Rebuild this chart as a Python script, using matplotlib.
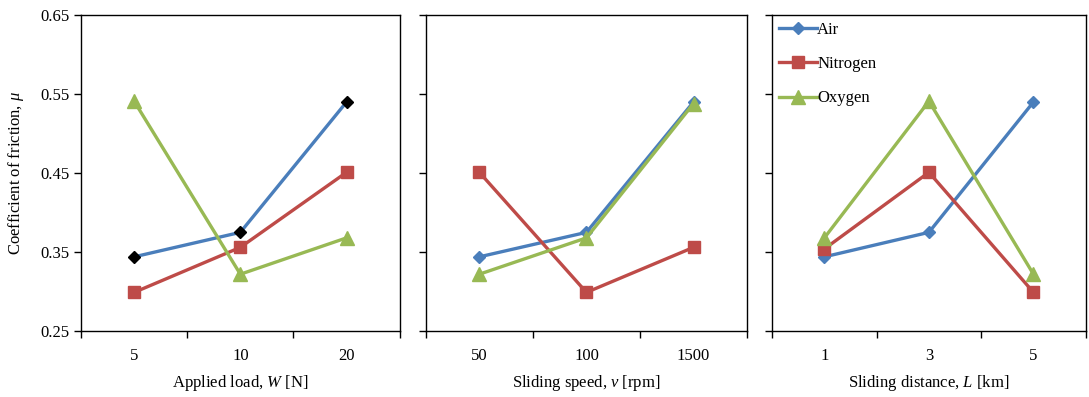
import matplotlib
matplotlib.use("Agg")
import matplotlib.pyplot as plt

# categories per panel
load_cats = ["5", "10", "20"]
speed_cats = ["50", "100", "1500"]
dist_cats = ["1", "3", "5"]

# coefficient of friction
load_air = [0.344, 0.375, 0.540]
load_n2 = [0.299, 0.356, 0.451]
load_o2 = [0.541, 0.322, 0.368]

speed_air = [0.344, 0.375, 0.540]
speed_n2 = [0.451, 0.299, 0.356]
speed_o2 = [0.322, 0.368, 0.538]

dist_air = [0.344, 0.375, 0.540]
dist_n2 = [0.354, 0.451, 0.299]
dist_o2 = [0.368, 0.541, 0.322]

BLUE, RED, GREEN = "#4a7ebb", "#be4b48", "#98b954"

plt.rcParams["font.family"] = "Liberation Serif"
plt.rcParams["mathtext.fontset"] = "custom"
plt.rcParams["mathtext.it"] = "Liberation Serif:italic"
plt.rcParams["mathtext.rm"] = "Liberation Serif"

fig = plt.figure(figsize=(10.89, 3.97), dpi=100)
bottom, top = 0.166, 0.962
boxes = [(0.0744, 0.367), (0.391, 0.686), (0.709, 0.997)]
panels = [
    (load_cats, load_air, load_n2, load_o2, "Applied load, $W$ [N]", "black"),
    (speed_cats, speed_air, speed_n2, speed_o2, "Sliding speed, $v$ [rpm]", BLUE),
    (dist_cats, dist_air, dist_n2, dist_o2, "Sliding distance, $L$ [km]", BLUE),
]

for i, ((l, r), (cats, air, n2, o2, xlabel, air_mk)) in enumerate(zip(boxes, panels)):
    ax = fig.add_axes([l, bottom, r - l, top - bottom])
    x = range(len(cats))
    ax.plot(x, air, "-", color=BLUE, lw=2.4, marker="D", ms=6.5,
            mfc=air_mk, mec=air_mk, label="Air", zorder=3)
    ax.plot(x, n2, "-", color=RED, lw=2.4, marker="s", ms=8.5,
            mfc=RED, mec=RED, label="Nitrogen", zorder=3)
    ax.plot(x, o2, "-", color=GREEN, lw=2.4, marker="^", ms=9.5,
            mfc=GREEN, mec=GREEN, label="Oxygen", zorder=3)
    ax.set_xlim(-0.5, len(cats) - 0.5)
    ax.set_ylim(0.25, 0.65)
    ax.set_yticks([0.25, 0.35, 0.45, 0.55, 0.65])
    ax.set_xticks([k - 0.5 for k in range(len(cats) + 1)])
    ax.set_xticklabels([])
    ax.set_xticks(list(x), minor=True)
    ax.set_xticklabels(cats, minor=True, fontsize=12)
    ax.tick_params(axis="x", which="minor", length=0, pad=12)
    ax.tick_params(axis="both", which="major", direction="out", length=5, width=1)
    ax.set_xlabel(xlabel, fontsize=12, labelpad=7)
    for s in ax.spines.values():
        s.set_linewidth(1.0)
    if i == 0:
        ax.set_yticklabels(["0.25", "0.35", "0.45", "0.55", "0.65"], fontsize=12)
        ax.set_ylabel("Coefficient of friction, $\\mu$", fontsize=12, labelpad=10)
    else:
        ax.set_yticklabels([])
    if i == 2:
        ax.legend(loc="upper left", frameon=False, fontsize=12, handlelength=2.3,
                  handletextpad=0.0, labelspacing=1.1, borderaxespad=0.1,
                  borderpad=0.3)

fig.savefig("out.png", dpi=100)
